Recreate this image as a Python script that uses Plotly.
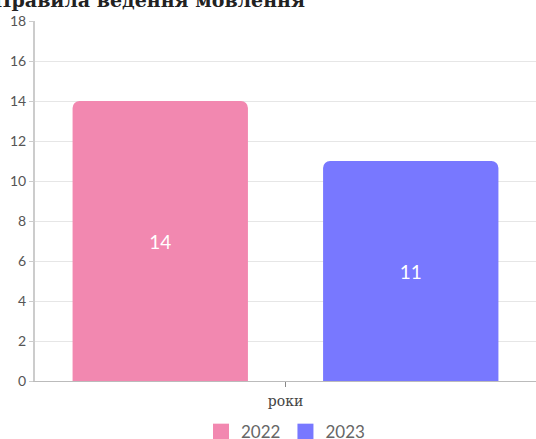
import plotly.graph_objects as go

title_text = "Правила ведення мовлення"
category = ["роки"]
years = ["2022", "2023"]
values = [14, 11]
colors = ["#F288B0", "#7878FF"]

fig = go.Figure()
for yr, v, c in zip(years, values, colors):
    fig.add_trace(go.Bar(
        x=category, y=[v], name=yr, marker=dict(color=c, line=dict(width=0)),
        text=[str(v)], textposition="inside", insidetextanchor="middle",
        textfont=dict(color="white", size=19, family="Lato"),
        showlegend=False, legendgroup=yr,
    ))
# legend swatches (square markers) for each series
for yr, c in zip(years, colors):
    fig.add_trace(go.Scatter(
        x=[None], y=[None], mode="markers", name=yr, legendgroup=yr,
        marker=dict(symbol="square", size=16, color=c),
    ))

fig.update_layout(
    width=536, height=439,
    margin=dict(l=35, r=0, t=21, b=58, autoexpand=False),
    paper_bgcolor="white", plot_bgcolor="white",
    barmode="group", bargap=0.0, bargroupgap=0.3, barcornerradius=7,
    title=dict(text="<b>" + title_text + "</b>", xref="container", x=305/536, xanchor="right",
               yref="container", y=1.0, yanchor="middle", automargin=False,
               font=dict(family="DejaVu Serif", size=19, color="#222")),
    showlegend=True,
    legend=dict(orientation="h", x=0.5, xanchor="center", y=-0.142, yanchor="middle",
                font=dict(family="Lato", size=17, color="#666"), itemwidth=30,
                tracegroupgap=0),
    xaxis=dict(showline=True, linecolor="#bbb", linewidth=1, ticks="outside",
               tickcolor="#888", ticklen=5, showticklabels=False, automargin=False,
               title=dict(text="роки", font=dict(family="DejaVu Serif", size=14, color="#444"), standoff=10)),
    yaxis=dict(range=[0, 18], dtick=2, showline=True, linecolor="#ccc", linewidth=2,
               ticks="outside", tickcolor="#ccc", ticklen=4, automargin=False,
               gridcolor="#e6e6e6", zeroline=False,
               tickfont=dict(family="Lato", size=14, color="#555")),
)
fig.write_html(
    "out.html",
    config={"displayModeBar": False},
    post_script="document.body.style.margin='0';document.documentElement.style.overflow='hidden';document.body.style.overflow='hidden';",
)
